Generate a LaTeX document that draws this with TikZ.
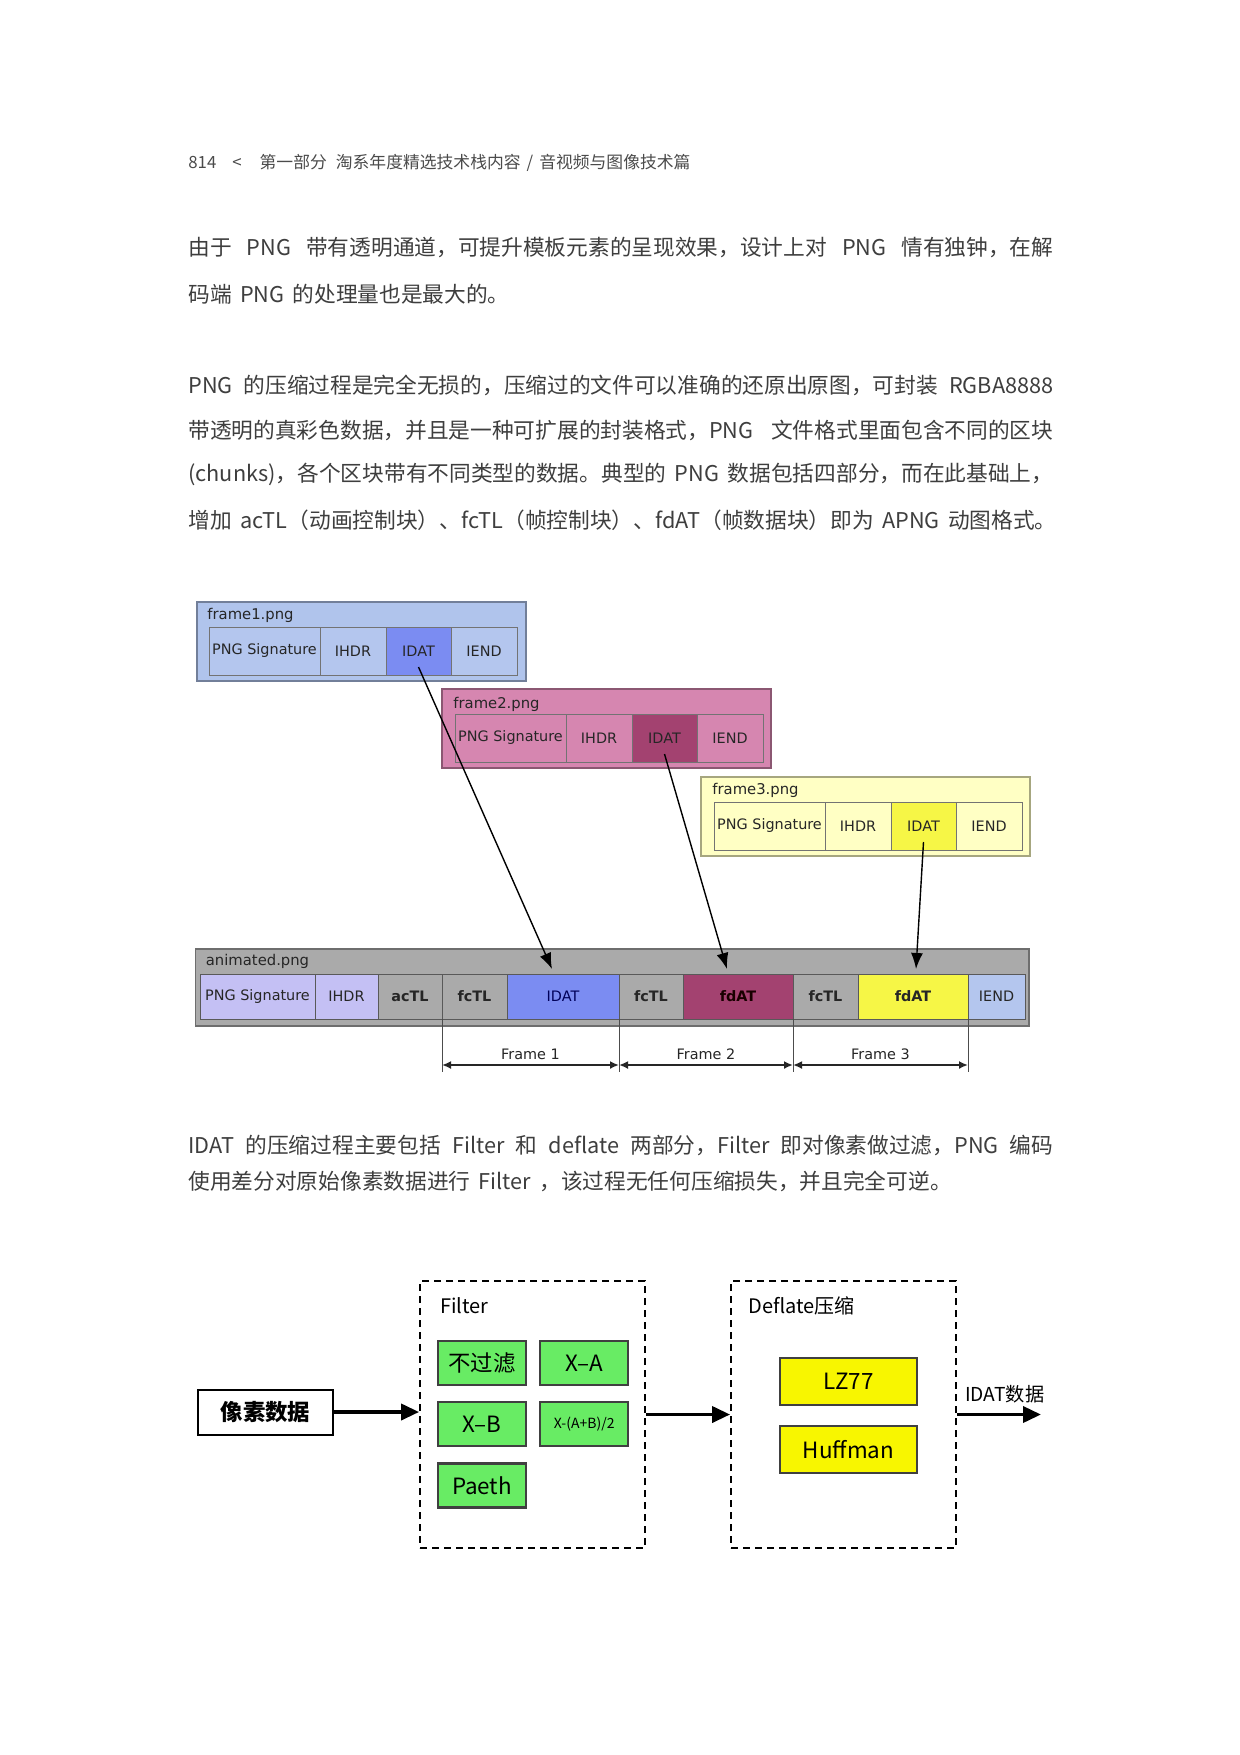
\documentclass[tikz,border=0pt]{standalone}
\usepackage{fontspec}
\usetikzlibrary{shapes,arrows,arrows.meta,positioning,calc}
\newfontfamily\cjk{Noto Sans CJK SC}
\newfontfamily\bodycjk[WordSpace=1.7]{Noto Sans CJK SC}
\newfontfamily\dvs{DejaVu Sans}
\XeTeXlinebreaklocale "zh"
\XeTeXlinebreakskip=0pt plus 1pt
\definecolor{TextGray}{RGB}{62, 62, 62}
\definecolor{HeadGray}{RGB}{75, 75, 75}
\definecolor{FrameOneBg}{RGB}{176, 196, 236}
\definecolor{FrameOneCell}{RGB}{180, 198, 238}
\definecolor{IdatBlue}{RGB}{123, 140, 242}
\definecolor{FrameTwoBg}{RGB}{214, 134, 176}
\definecolor{IdatPink}{RGB}{163, 66, 112}
\definecolor{FrameThreeBg}{RGB}{255, 255, 196}
\definecolor{IdatYellow}{RGB}{246, 246, 70}
\definecolor{AnimGray}{RGB}{170, 170, 170}
\definecolor{Lavender}{RGB}{196, 192, 244}
\definecolor{FilterGreen}{RGB}{104, 236, 100}
\definecolor{DeflateYellow}{RGB}{248, 246, 0}

\begin{document}
\begin{tikzpicture}[
    x=0.5pt, y=-0.5pt,
    node distance=0pt,
    body/.style={anchor=west, inner sep=0pt, font=\bodycjk\fontsize{10.85}{13}\selectfont, text=TextGray},
    head/.style={anchor=west, inner sep=0pt, font=\bodycjk\fontsize{8.4}{10}\selectfont, text=HeadGray},
    filebox/.style={draw=#1!65!black, fill=#1, line width=0.7pt, minimum width=164.5pt, minimum height=39.5pt, inner sep=0pt, outer sep=0pt, anchor=north west},
    flabel/.style={anchor=west, inner sep=0pt, font=\dvs\fontsize{7.4}{9}\selectfont, text=black!85},
    cell/.style={draw=black!55, line width=0.5pt, minimum height=24pt, inner sep=0pt, outer sep=0pt, font=\dvs\fontsize{7.2}{9}\selectfont, text=black!85},
    acell/.style={cell, draw=black!65, minimum height=22.5pt},
    link/.style={-{Latex[length=8pt,width=6pt]}, line width=0.7pt},
    span/.style={{Latex[length=4.5pt,width=4pt]}-{Latex[length=4.5pt,width=4pt]}, line width=1.1pt, black!85},
    tick/.style={line width=0.4pt, black!70},
    plainbox/.style={draw, line width=1pt, minimum width=67.5pt, minimum height=22.5pt, font=\cjk\fontsize{11.2}{13}\selectfont\bfseries},
    dashbox/.style={draw, dash pattern=on 3.5pt off 2.5pt, line width=0.9pt, minimum width=112.5pt, minimum height=133.5pt},
    caption/.style={anchor=west, inner sep=0pt, font=\cjk\fontsize{10}{12}\selectfont},
    greenbox/.style={draw=black!75, fill=FilterGreen, line width=1.1pt, minimum width=44pt, minimum height=22pt, inner sep=0pt, font=\cjk\fontsize{11.2}{13}\selectfont},
    yellowbox/.style={draw=black!75, fill=DeflateYellow, line width=1.1pt, minimum width=68.5pt, minimum height=23.5pt, inner sep=0pt, font=\cjk\fontsize{11.2}{13}\selectfont},
    flow/.style={-{Triangle[length=9pt,width=8pt]}, line width=1.8pt},
  ]
    \fill[white] (0,0) rectangle (1240,1755);
    \useasboundingbox (0,0) rectangle (1240,1755);

    % page text
    \node[head] (pagehead) at (188,163) {814\hspace{8pt}<\hspace{9pt}第一部分\hspace{4.5pt}淘系年度精选技术栈内容\hspace{3pt}/\hspace{3pt}音视频与图像技术篇};

    \node[body] (p1a) at (188,248) {\hbox to 432.5pt{由于 PNG 带有透明通道，可提升模板元素的呈现效果，设计上对 PNG 情有独钟，在解}};
    \node[body] (p1b) at (188,294) {码端 PNG 的处理量也是最大的。};

    \node[body] (p2a) at (188,385) {\hbox to 432.5pt{PNG 的压缩过程是完全无损的，压缩过的文件可以准确的还原出原图，可封装 RGBA8888}};
    \node[body] (p2b) at (188,430) {\hbox to 432.5pt{带透明的真彩色数据，并且是一种可扩展的封装格式，PNG 文件格式里面包含不同的区块}};
    \node[body] (p2c) at (188,474.5) {\hbox to 432.5pt{(chunks)，各个区块带有不同类型的数据。典型的 PNG 数据包括四部分，而在此基础上，}};
    \node[body] (p2d) at (188,520) {增加 acTL（动画控制块）、fcTL（帧控制块）、fdAT（帧数据块）即为 APNG 动图格式。};

    \node[body] (p3a) at (188,1145) {\hbox to 432.5pt{IDAT 的压缩过程主要包括 Filter 和 deflate 两部分，Filter 即对像素做过滤，PNG 编码}};
    \node[body] (p3b) at (188,1181) {使用差分对原始像素数据进行 Filter ，该过程无任何压缩损失，并且完全可逆。};

    % frame1.png
    \node[filebox=FrameOneBg] (frame1) at (197,602) {};
    \node[flabel] at ([xshift=5pt,yshift=-6.5pt]frame1.north west) {frame1.png};
    \node[cell, fill=FrameOneCell, minimum width=55.5pt, anchor=north west] (f1sig) at ([xshift=6pt,yshift=-12.5pt]frame1.north west) {PNG Signature};
    \node[cell, fill=FrameOneCell, minimum width=33pt, right=of f1sig] (f1ihdr) {IHDR};
    \node[cell, fill=IdatBlue, minimum width=32.5pt, right=of f1ihdr] (f1idat) {IDAT};
    \node[cell, fill=FrameOneCell, minimum width=33pt, right=of f1idat] (f1iend) {IEND};

    % frame2.png
    \node[filebox=FrameTwoBg] (frame2) at (442,689) {};
    \node[flabel] at ([xshift=5.5pt,yshift=-7.5pt]frame2.north west) {frame2.png};
    \node[cell, fill=FrameTwoBg, minimum width=55.5pt, anchor=north west] (f2sig) at ([xshift=6.5pt,yshift=-12.5pt]frame2.north west) {PNG Signature};
    \node[cell, fill=FrameTwoBg, minimum width=33pt, right=of f2sig] (f2ihdr) {IHDR};
    \node[cell, fill=IdatPink, minimum width=32.5pt, right=of f2ihdr] (f2idat) {IDAT};
    \node[cell, fill=FrameTwoBg, minimum width=33pt, right=of f2idat] (f2iend) {IEND};

    % frame3.png
    \node[filebox=FrameThreeBg] (frame3) at (701,777) {};
    \node[flabel] at ([xshift=5.5pt,yshift=-6.5pt]frame3.north west) {frame3.png};
    \node[cell, fill=FrameThreeBg, minimum width=55.5pt, anchor=north west] (f3sig) at ([xshift=6.5pt,yshift=-12.5pt]frame3.north west) {PNG Signature};
    \node[cell, fill=FrameThreeBg, minimum width=33pt, right=of f3sig] (f3ihdr) {IHDR};
    \node[cell, fill=IdatYellow, minimum width=32.5pt, right=of f3ihdr] (f3idat) {IDAT};
    \node[cell, fill=FrameThreeBg, minimum width=33pt, right=of f3idat] (f3iend) {IEND};

    % animated.png
    \node[filebox=AnimGray, minimum width=416.75pt, minimum height=38.5pt] (anim) at (195.5,949) {};
    \node[flabel] at ([xshift=5pt,yshift=-6pt]anim.north west) {animated.png};
    \node[acell, fill=Lavender, minimum width=57.5pt, anchor=north west] (asig) at ([xshift=2.25pt,yshift=-12.5pt]anim.north west) {PNG Signature};
    \node[acell, fill=Lavender, minimum width=31.5pt, right=of asig] (aihdr) {IHDR};
    \node[acell, fill=AnimGray, minimum width=32pt, right=of aihdr, font=\dvs\bfseries\fontsize{7.2}{9}\selectfont] (aactl) {acTL};
    \node[acell, fill=AnimGray, minimum width=32.5pt, right=of aactl, font=\dvs\bfseries\fontsize{7.2}{9}\selectfont] (afctl1) {fcTL};
    \node[acell, fill=IdatBlue, minimum width=56pt, right=of afctl1, text=blue!35!black] (aidat) {IDAT};
    \node[acell, fill=AnimGray, minimum width=32pt, right=of aidat, font=\dvs\bfseries\fontsize{7.2}{9}\selectfont] (afctl2) {fcTL};
    \node[acell, fill=IdatPink, minimum width=55pt, right=of afctl2, font=\dvs\bfseries\fontsize{7.2}{9}\selectfont, text=black!90!red] (afdat2) {fdAT};
    \node[acell, fill=AnimGray, minimum width=32.5pt, right=of afdat2, font=\dvs\bfseries\fontsize{7.2}{9}\selectfont] (afctl3) {fcTL};
    \node[acell, fill=IdatYellow, minimum width=55pt, right=of afctl3, font=\dvs\bfseries\fontsize{7.2}{9}\selectfont] (afdat3) {fdAT};
    \node[acell, fill=FrameOneCell, minimum width=28.5pt, right=of afdat3] (aiend) {IEND};

    \draw[link] ([yshift=-8pt]f1idat.center) -- ([xshift=-5.5pt,yshift=2.5pt]aidat.north);
    \draw[link] ([yshift=-8pt]f2idat.center) -- ([xshift=-5.5pt,yshift=2.5pt]afdat2.north);
    \draw[link] ([yshift=-8pt]f3idat.center) -- ([xshift=1.5pt,yshift=2.5pt]afdat3.north);

    \draw[tick] (afctl1.south west) -- ([yshift=-26.5pt]afctl1.south west);
    \draw[tick] (aidat.south east) -- ([yshift=-26.5pt]aidat.south east);
    \draw[tick] (afdat2.south east) -- ([yshift=-26.5pt]afdat2.south east);
    \draw[tick] (afdat3.south east) -- ([yshift=-26.5pt]afdat3.south east);
    \coordinate (m0) at ([yshift=-23pt]afctl1.south west);
    \coordinate (m1) at ([yshift=-23pt]aidat.south east);
    \coordinate (m2) at ([yshift=-23pt]afdat2.south east);
    \coordinate (m3) at ([yshift=-23pt]afdat3.south east);
    \draw[span] (m0) -- node[above=2pt, flabel, anchor=south, font=\dvs\fontsize{7.2}{9}\selectfont] {Frame 1} (m1);
    \draw[span] (m1) -- node[above=2pt, flabel, anchor=south, font=\dvs\fontsize{7.2}{9}\selectfont] {Frame 2} (m2);
    \draw[span] (m2) -- node[above=2pt, flabel, anchor=south, font=\dvs\fontsize{7.2}{9}\selectfont] {Frame 3} (m3);

    % IDAT compression
    \node[plainbox] (pixel) at (265.5,1412) {像素数据};
    \node[dashbox] (filter) at (532.5,1414.5) {};
    \node[dashbox] (deflate) at (843.5,1414.5) {};
    \node[caption] at (440,1306) {Filter};
    \node[caption] at (748,1306) {Deflate压缩};

    \node[greenbox] (nofilt) at (482,1363) {不过滤};
    \node[greenbox, right=6pt of nofilt] (xa) {X–A};
    \node[greenbox, below=7.5pt of nofilt] (xb) {X–B};
    \node[greenbox, right=6pt of xb, font=\cjk\fontsize{7}{9}\selectfont] (xavg) {X-(A+B)/2};
    \node[greenbox, below=7.5pt of xb] (paeth) {Paeth};

    \node[yellowbox] (lz) at (848.5,1381.5) {LZ77};
    \node[yellowbox, below=9.5pt of lz] (huff) {Huffman};

    \coordinate (out) at (1041,1414.5);
    \draw[flow] (pixel.east) -- (pixel.east -| filter.west);
    \draw[flow] (filter.east) -- (deflate.west);
    \draw[flow] (deflate.east) -- node[pos=0.57, above=5pt, caption, anchor=south, font=\cjk\fontsize{9.6}{12}\selectfont] {IDAT数据} (out);
  \end{tikzpicture}
\end{document}
